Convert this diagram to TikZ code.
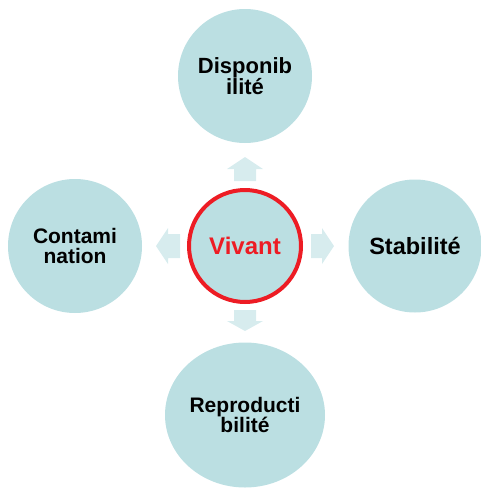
\documentclass[tikz,border=0pt]{standalone}
\usepackage{fontspec}
\usetikzlibrary{shapes.geometric}
\setmainfont{Liberation Sans}
\definecolor{circfill}{HTML}{BBDFE2}
\definecolor{arrfill}{HTML}{D7ECEE}
\definecolor{vred}{HTML}{ED1C24}
\begin{document}
\begin{tikzpicture}[x=1pt,y=-1pt,
  bubble/.style={circle,fill=circfill,draw=none,inner sep=0pt,align=center},
  fs/.style={font=\bfseries\fontsize{#1}{20.5}\selectfont},
  arr/.style={fill=arrfill,draw=none}]
\useasboundingbox (0,0) rectangle (481,488);
% outer circles
\node[bubble,minimum size=134pt,fs=22] (top) at (245,76) {Disponib\\ilité};
\node[bubble,minimum size=133pt,fs=23.5] (right) at (415,246) {Stabilité};
\node[bubble,minimum size=134pt,fs=21] (left) at (75,246) {Contami\\nation};
\node[ellipse,fill=circfill,draw=none,inner sep=0pt,minimum width=160pt,minimum height=145pt,align=center,fs=21] (bottom) at (245,415) {Reproducti\\bilité};
% center
\node[circle,fill=circfill,draw=vred,line width=4pt,minimum size=112pt,inner sep=0pt,fs=24,text=vred] (center) at (245,246) {Vivant};
% arrows
\fill[arr] (234,181) -- (234,169) -- (227,169) -- (245,157) -- (263,169) -- (256,169) -- (256,181) -- cycle;
\fill[arr] (234,310) -- (234,321) -- (227,321) -- (245,331) -- (263,321) -- (256,321) -- (256,310) -- cycle;
\fill[arr] (311,234) -- (322,234) -- (322,228) -- (334,246) -- (322,264) -- (322,258) -- (311,258) -- cycle;
\fill[arr] (180,234) -- (168,234) -- (168,228) -- (156,246) -- (168,264) -- (168,258) -- (180,258) -- cycle;
\end{tikzpicture}
\end{document}
